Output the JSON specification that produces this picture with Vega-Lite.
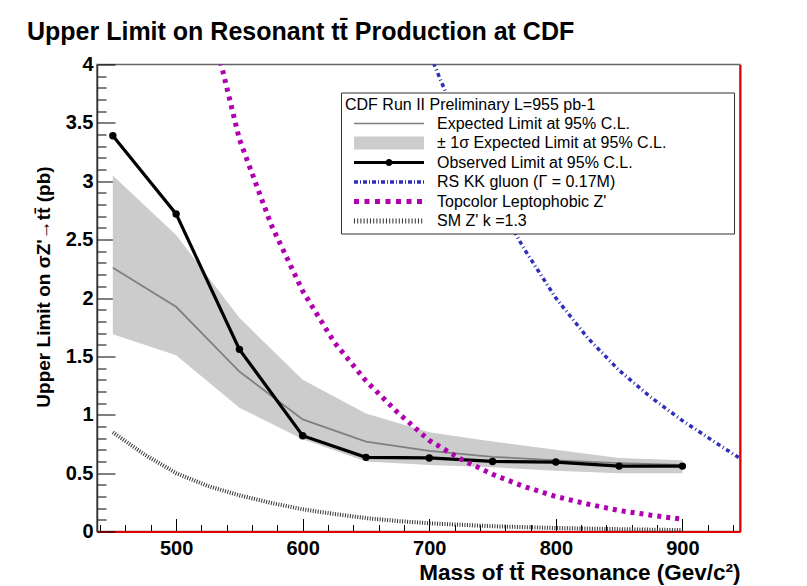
{
  "$schema": "https://vega.github.io/schema/vega-lite/v6.json",
  "width": 643,
  "height": 467,
  "autosize": {"type": "none"},
  "padding": {"left": 97, "top": 64.5, "right": 67, "bottom": 54.5},
  "background": "white",
  "config": {
    "font": "Liberation Sans",
    "view": {"stroke": "#666666", "strokeWidth": 1.5},
    "legend": {
      "orient": "none",
      "legendX": 244,
      "legendY": 28,
      "padding": 4,
      "strokeColor": "#333333",
      "fillColor": "white",
      "titleFont": "Liberation Sans",
      "titleFontWeight": "normal",
      "titleFontSize": 16,
      "titleColor": "black",
      "titleLimit": 400,
      "titlePadding": 3,
      "labelFont": "Liberation Sans",
      "labelFontSize": 16,
      "labelColor": "black",
      "labelLimit": 400,
      "symbolSize": 100,
      "symbolOffset": 6,
      "symbolStrokeWidth": 0,
      "symbolOpacity": 1,
      "labelOffset": 70,
      "rowPadding": 3.5
    }
  },
  "title": {
    "text": "Upper Limit on Resonant tt\u0304 Production at CDF",
    "anchor": "start",
    "frame": "group",
    "font": "Liberation Sans",
    "fontSize": 25,
    "fontWeight": "bold",
    "color": "black",
    "dx": -70,
    "offset": 10
  },
  "datasets": {
    "band": [
      {"series": "± 1σ Expected Limit at 95% C.L.", "mass": 450, "lo": 1.69, "hi": 3.05},
      {"series": "± 1σ Expected Limit at 95% C.L.", "mass": 500, "lo": 1.51, "hi": 2.54},
      {"series": "± 1σ Expected Limit at 95% C.L.", "mass": 550, "lo": 1.06, "hi": 1.83},
      {"series": "± 1σ Expected Limit at 95% C.L.", "mass": 600, "lo": 0.79, "hi": 1.30},
      {"series": "± 1σ Expected Limit at 95% C.L.", "mass": 650, "lo": 0.60, "hi": 1.01},
      {"series": "± 1σ Expected Limit at 95% C.L.", "mass": 700, "lo": 0.57, "hi": 0.85},
      {"series": "± 1σ Expected Limit at 95% C.L.", "mass": 750, "lo": 0.55, "hi": 0.77},
      {"series": "± 1σ Expected Limit at 95% C.L.", "mass": 800, "lo": 0.52, "hi": 0.70},
      {"series": "± 1σ Expected Limit at 95% C.L.", "mass": 850, "lo": 0.50, "hi": 0.63},
      {"series": "± 1σ Expected Limit at 95% C.L.", "mass": 900, "lo": 0.50, "hi": 0.61}
    ],
    "lines": [
      {"series": "Expected Limit at 95% C.L.", "mass": 450, "value": 2.26},
      {"series": "Expected Limit at 95% C.L.", "mass": 500, "value": 1.925},
      {"series": "Expected Limit at 95% C.L.", "mass": 550, "value": 1.37},
      {"series": "Expected Limit at 95% C.L.", "mass": 600, "value": 0.96},
      {"series": "Expected Limit at 95% C.L.", "mass": 650, "value": 0.77},
      {"series": "Expected Limit at 95% C.L.", "mass": 700, "value": 0.69},
      {"series": "Expected Limit at 95% C.L.", "mass": 750, "value": 0.64},
      {"series": "Expected Limit at 95% C.L.", "mass": 800, "value": 0.61},
      {"series": "Expected Limit at 95% C.L.", "mass": 850, "value": 0.585},
      {"series": "Expected Limit at 95% C.L.", "mass": 900, "value": 0.57},
      {"series": "Observed Limit at 95% C.L.", "mass": 450, "value": 3.39},
      {"series": "Observed Limit at 95% C.L.", "mass": 500, "value": 2.72},
      {"series": "Observed Limit at 95% C.L.", "mass": 550, "value": 1.56},
      {"series": "Observed Limit at 95% C.L.", "mass": 600, "value": 0.82},
      {"series": "Observed Limit at 95% C.L.", "mass": 650, "value": 0.635},
      {"series": "Observed Limit at 95% C.L.", "mass": 700, "value": 0.63},
      {"series": "Observed Limit at 95% C.L.", "mass": 750, "value": 0.60},
      {"series": "Observed Limit at 95% C.L.", "mass": 800, "value": 0.595},
      {"series": "Observed Limit at 95% C.L.", "mass": 850, "value": 0.56},
      {"series": "Observed Limit at 95% C.L.", "mass": 900, "value": 0.56},
      {"series": "RS KK gluon (Γ = 0.17M)", "mass": 700, "value": 4.1},
      {"series": "RS KK gluon (Γ = 0.17M)", "mass": 725, "value": 3.45},
      {"series": "RS KK gluon (Γ = 0.17M)", "mass": 750, "value": 2.9},
      {"series": "RS KK gluon (Γ = 0.17M)", "mass": 775, "value": 2.42},
      {"series": "RS KK gluon (Γ = 0.17M)", "mass": 800, "value": 2.0},
      {"series": "RS KK gluon (Γ = 0.17M)", "mass": 825, "value": 1.66},
      {"series": "RS KK gluon (Γ = 0.17M)", "mass": 850, "value": 1.38},
      {"series": "RS KK gluon (Γ = 0.17M)", "mass": 875, "value": 1.15},
      {"series": "RS KK gluon (Γ = 0.17M)", "mass": 900, "value": 0.95},
      {"series": "RS KK gluon (Γ = 0.17M)", "mass": 925, "value": 0.77},
      {"series": "RS KK gluon (Γ = 0.17M)", "mass": 945, "value": 0.63},
      {"series": "Topcolor Leptophobic Z'", "mass": 530, "value": 4.25},
      {"series": "Topcolor Leptophobic Z'", "mass": 550, "value": 3.36},
      {"series": "Topcolor Leptophobic Z'", "mass": 575, "value": 2.63},
      {"series": "Topcolor Leptophobic Z'", "mass": 600, "value": 2.06},
      {"series": "Topcolor Leptophobic Z'", "mass": 625, "value": 1.62},
      {"series": "Topcolor Leptophobic Z'", "mass": 650, "value": 1.29},
      {"series": "Topcolor Leptophobic Z'", "mass": 675, "value": 1.02},
      {"series": "Topcolor Leptophobic Z'", "mass": 700, "value": 0.78},
      {"series": "Topcolor Leptophobic Z'", "mass": 725, "value": 0.62},
      {"series": "Topcolor Leptophobic Z'", "mass": 750, "value": 0.49},
      {"series": "Topcolor Leptophobic Z'", "mass": 775, "value": 0.385},
      {"series": "Topcolor Leptophobic Z'", "mass": 800, "value": 0.30},
      {"series": "Topcolor Leptophobic Z'", "mass": 825, "value": 0.235},
      {"series": "Topcolor Leptophobic Z'", "mass": 850, "value": 0.18},
      {"series": "Topcolor Leptophobic Z'", "mass": 875, "value": 0.14},
      {"series": "Topcolor Leptophobic Z'", "mass": 900, "value": 0.105},
      {"series": "SM Z' k =1.3", "mass": 450, "value": 0.85},
      {"series": "SM Z' k =1.3", "mass": 475, "value": 0.66},
      {"series": "SM Z' k =1.3", "mass": 500, "value": 0.5},
      {"series": "SM Z' k =1.3", "mass": 525, "value": 0.39},
      {"series": "SM Z' k =1.3", "mass": 550, "value": 0.31},
      {"series": "SM Z' k =1.3", "mass": 575, "value": 0.245},
      {"series": "SM Z' k =1.3", "mass": 600, "value": 0.19},
      {"series": "SM Z' k =1.3", "mass": 625, "value": 0.15},
      {"series": "SM Z' k =1.3", "mass": 650, "value": 0.115},
      {"series": "SM Z' k =1.3", "mass": 675, "value": 0.09},
      {"series": "SM Z' k =1.3", "mass": 700, "value": 0.07},
      {"series": "SM Z' k =1.3", "mass": 750, "value": 0.045},
      {"series": "SM Z' k =1.3", "mass": 800, "value": 0.03},
      {"series": "SM Z' k =1.3", "mass": 850, "value": 0.02},
      {"series": "SM Z' k =1.3", "mass": 900, "value": 0.012}
    ]
  },
  "resolve": {"axis": {"y": "independent"}},
  "encoding": {
    "x": {
      "field": "mass",
      "type": "quantitative",
      "scale": {"domain": [437.5, 945.5], "nice": false, "zero": false},
      "axis": {
        "title": "Mass of tt\u0304 Resonance (Gev/c²)",
        "titleAnchor": "end",
        "titleFont": "Liberation Sans",
        "titleFontSize": 22.5,
        "titleFontWeight": "bold",
        "titleColor": "black",
        "titlePadding": -3,
        "values": [440, 460, 480, 500, 520, 540, 560, 580, 600, 620, 640, 660, 680, 700, 720, 740, 760, 780, 800, 820, 840, 860, 880, 900, 920, 940],
        "labelExpr": "datum.value % 100 === 0 ? datum.label : ''",
        "labelFont": "Liberation Sans",
        "labelFontSize": 20,
        "labelFontWeight": "bold",
        "labelColor": "black",
        "labelPadding": 20,
        "labelFlush": false,
        "labelOverlap": false,
        "tickSize": {"condition": {"test": "datum.value % 100 === 0", "value": -13}, "value": -7},
        "tickColor": "black",
        "tickWidth": 1,
        "domainColor": "#e00000",
        "domainWidth": 2,
        "grid": false
      }
    },
    "color": {
      "field": "series",
      "type": "nominal",
      "scale": {
        "domain": ["Expected Limit at 95% C.L.", "± 1σ Expected Limit at 95% C.L.", "Observed Limit at 95% C.L.", "RS KK gluon (Γ = 0.17M)", "Topcolor Leptophobic Z'", "SM Z' k =1.3"],
        "range": ["#808080", "#cccccc", "#000000", "#2e2eb8", "#b000b0", "#333333"]
      },
      "legend": {"title": "CDF Run II Preliminary L=955 pb-1"}
    }
  },
  "layer": [
    {
      "data": {"name": "band"},
      "mark": {"type": "area", "opacity": 1},
      "encoding": {
        "y": {
          "field": "hi",
          "type": "quantitative",
          "scale": {"domain": [0, 4], "nice": false, "zero": true},
          "axis": {
            "orient": "left",
            "title": "Upper Limit on σZ'→tt\u0304 (pb)",
            "titleFont": "Liberation Sans",
            "titleFontSize": 19,
            "titleFontWeight": "bold",
            "titleColor": "black",
            "titlePadding": 12,
            "titleY": 222,
            "values": [0, 0.1, 0.2, 0.3, 0.4, 0.5, 0.6, 0.7, 0.8, 0.9, 1, 1.1, 1.2, 1.3, 1.4, 1.5, 1.6, 1.7, 1.8, 1.9, 2, 2.1, 2.2, 2.3, 2.4, 2.5, 2.6, 2.7, 2.8, 2.9, 3, 3.1, 3.2, 3.3, 3.4, 3.5, 3.6, 3.7, 3.8, 3.9, 4],
            "labelExpr": "abs(datum.value * 2 - round(datum.value * 2)) < 0.000001 ? format(datum.value, '~g') : ''",
            "labelFont": "Liberation Sans",
            "labelFontSize": 20,
            "labelFontWeight": "bold",
            "labelColor": "black",
            "labelPadding": 22,
            "labelFlush": false,
            "labelOverlap": false,
            "tickSize": {"condition": {"test": "abs(datum.value * 2 - round(datum.value * 2)) < 0.000001", "value": -18}, "value": -9},
            "tickColor": "black",
            "tickWidth": 1,
            "domainColor": "#333333",
            "domainWidth": 1.5,
            "grid": false
          }
        },
        "y2": {"field": "lo"}
      }
    },
    {
      "data": {"name": "lines"},
      "transform": [{"filter": "datum.series === 'Expected Limit at 95% C.L.'"}],
      "mark": {"type": "line", "strokeWidth": 1.8},
      "encoding": {
        "y": {"field": "value", "type": "quantitative", "axis": null}
      }
    },
    {
      "data": {"name": "lines"},
      "transform": [{"filter": "datum.series === 'Observed Limit at 95% C.L.'"}],
      "mark": {"type": "line", "strokeWidth": 3.2, "point": {"filled": true, "size": 55}},
      "encoding": {
        "y": {"field": "value", "type": "quantitative", "axis": null}
      }
    },
    {
      "data": {"name": "lines"},
      "transform": [{"filter": "indexof(datum.series, 'RS KK') === 0"}],
      "mark": {"type": "line", "strokeWidth": 3.5, "strokeDash": [4, 3, 1, 3], "clip": true},
      "encoding": {
        "y": {"field": "value", "type": "quantitative", "axis": null}
      }
    },
    {
      "data": {"name": "lines"},
      "transform": [{"filter": "indexof(datum.series, 'Topcolor') === 0"}],
      "mark": {"type": "line", "strokeWidth": 5, "strokeDash": [4, 5], "clip": true},
      "encoding": {
        "y": {"field": "value", "type": "quantitative", "axis": null}
      }
    },
    {
      "data": {"name": "lines"},
      "transform": [{"filter": "indexof(datum.series, 'SM Z') === 0"}],
      "mark": {"type": "line", "strokeWidth": 4, "strokeDash": [1, 1.5]},
      "encoding": {
        "y": {
          "field": "value",
          "type": "quantitative",
          "axis": {"orient": "right", "title": null, "labels": false, "ticks": false, "domainColor": "#e00000", "domainWidth": 2, "grid": false}
        }
      }
    },
    {
      "data": {"name": "lines"},
      "transform": [{"filter": "datum.mass < 0"}],
      "mark": {"type": "point", "filled": true},
      "encoding": {
        "y": {"field": "value", "type": "quantitative", "axis": null},
        "shape": {
          "field": "series",
          "type": "nominal",
          "scale": {
            "domain": ["Expected Limit at 95% C.L.", "± 1σ Expected Limit at 95% C.L.", "Observed Limit at 95% C.L.", "RS KK gluon (Γ = 0.17M)", "Topcolor Leptophobic Z'", "SM Z' k =1.3"],
            "range": [
              "M-1,-0.15H13V0.15H-1Z",
              "M-1,-1.3H13V1.3H-1ZM74.2,0",
              "M-1,-0.3H5.4V0.3H-1ZM6.6,-0.3H13V0.3H6.6ZM5.3,0A0.7,0.7,0,1,1,6.7,0A0.7,0.7,0,1,1,5.3,0Z",
              "M-1,-0.35H-0.2V0.35H-1ZM0.2,-0.35H0.4V0.35H0.2ZM0.8,-0.35H1.6V0.35H0.8ZM2,-0.35H2.2V0.35H2ZM2.6,-0.35H3.4V0.35H2.6ZM3.8,-0.35H4V0.35H3.8ZM4.4,-0.35H5.2V0.35H4.4ZM5.6,-0.35H5.8V0.35H5.6ZM6.2,-0.35H7V0.35H6.2ZM7.4,-0.35H7.6V0.35H7.4ZM8,-0.35H8.8V0.35H8ZM9.2,-0.35H9.4V0.35H9.2ZM9.8,-0.35H10.6V0.35H9.8ZM11,-0.35H11.2V0.35H11ZM11.6,-0.35H12.4V0.35H11.6ZM12.8,-0.35H13V0.35H12.8Z",
              "M-1,-0.5H0V0.5H-1ZM1.1,-0.5H2.1V0.5H1.1ZM3.2,-0.5H4.2V0.5H3.2ZM5.3,-0.5H6.3V0.5H5.3ZM7.4,-0.5H8.4V0.5H7.4ZM9.5,-0.5H10.5V0.5H9.5ZM11.6,-0.5H12.6V0.5H11.6Z",
              "M-1,-0.5H-0.8V0.5H-1ZM-0.36,-0.5H-0.16V0.5H-0.36ZM0.28,-0.5H0.48V0.5H0.28ZM0.92,-0.5H1.12V0.5H0.92ZM1.56,-0.5H1.76V0.5H1.56ZM2.2,-0.5H2.4V0.5H2.2ZM2.84,-0.5H3.04V0.5H2.84ZM3.48,-0.5H3.68V0.5H3.48ZM4.12,-0.5H4.32V0.5H4.12ZM4.76,-0.5H4.96V0.5H4.76ZM5.4,-0.5H5.6V0.5H5.4ZM6.04,-0.5H6.24V0.5H6.04ZM6.68,-0.5H6.88V0.5H6.68ZM7.32,-0.5H7.52V0.5H7.32ZM7.96,-0.5H8.16V0.5H7.96ZM8.6,-0.5H8.8V0.5H8.6ZM9.24,-0.5H9.44V0.5H9.24ZM9.88,-0.5H10.08V0.5H9.88ZM10.52,-0.5H10.72V0.5H10.52ZM11.16,-0.5H11.36V0.5H11.16ZM11.8,-0.5H12V0.5H11.8ZM12.44,-0.5H12.64V0.5H12.44Z"
            ]
          },
          "legend": {"title": "CDF Run II Preliminary L=955 pb-1"}
        }
      }
    }
  ]
}
